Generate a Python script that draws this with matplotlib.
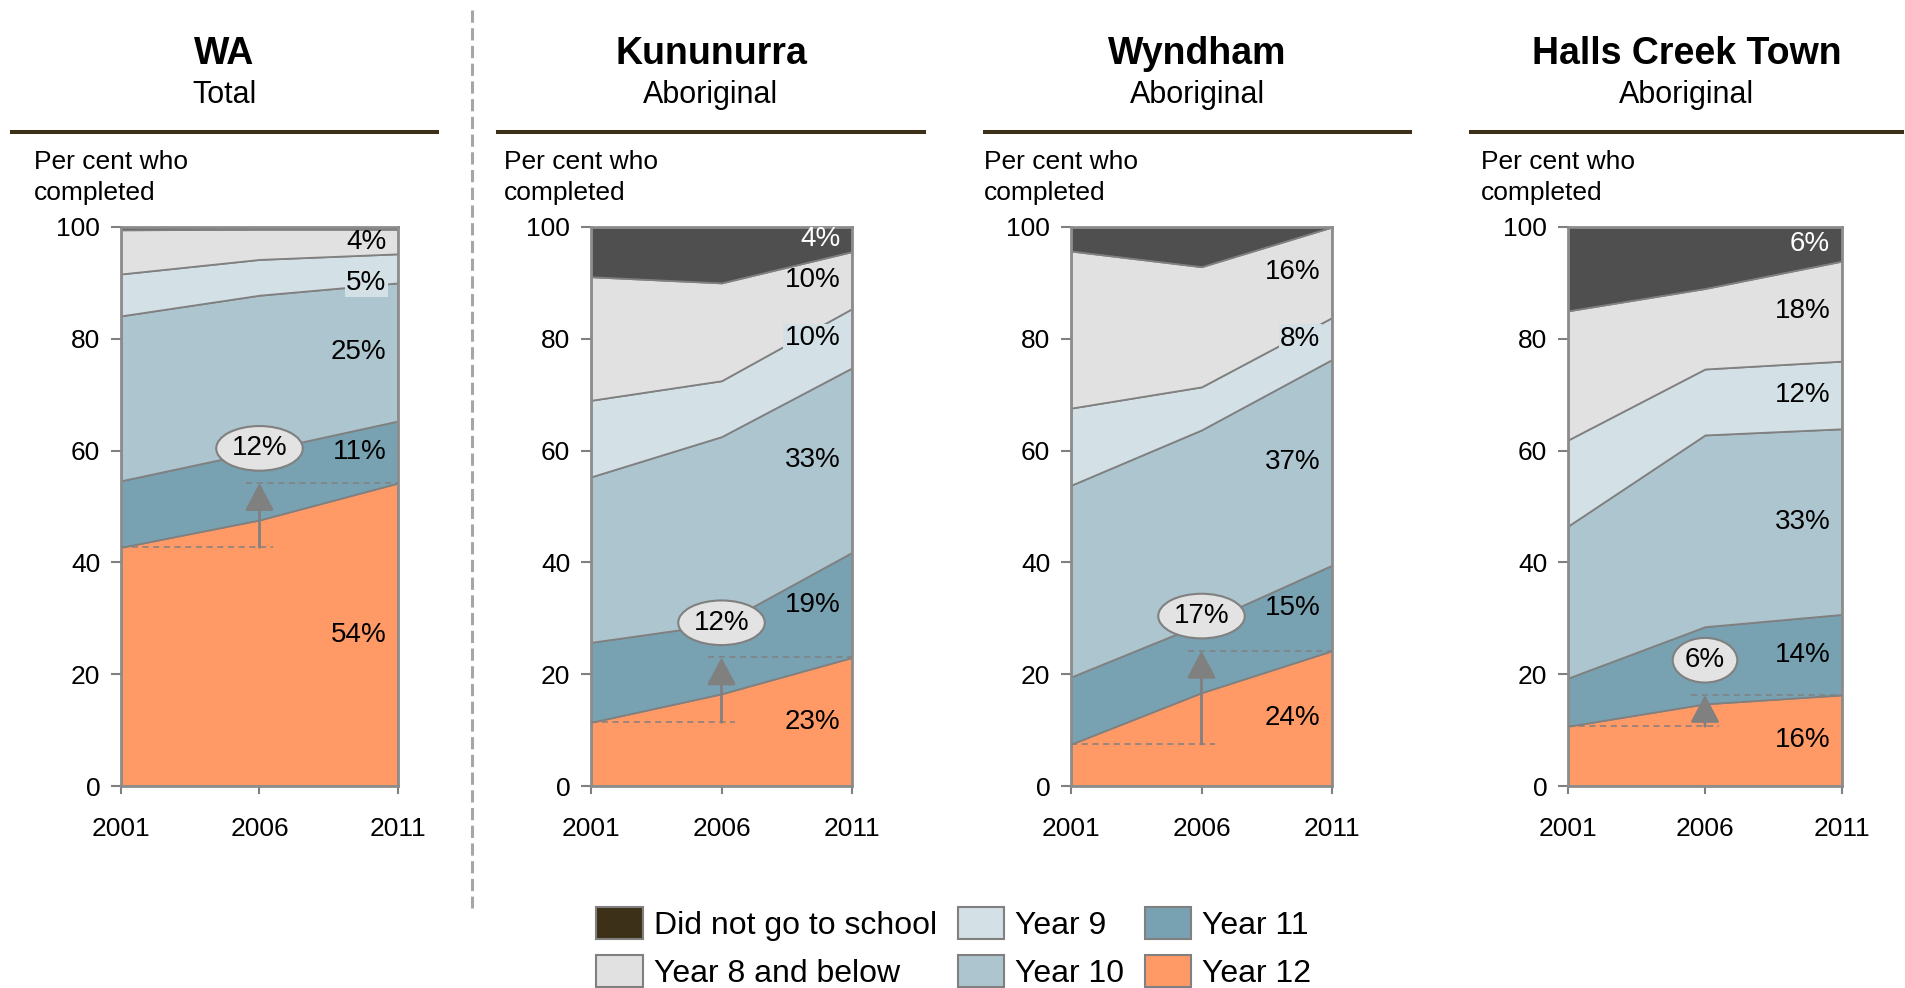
import numpy as np
from matplotlib import pyplot as plt
from matplotlib.patches import Patch
from matplotlib.lines import Line2D

plt.rcParams['font.family'] = ['Liberation Sans', 'DejaVu Sans']

# --- data (shares of people per highest year completed, bottom to top) ---
years = [2001, 2006, 2011]
categories = ['Year 12', 'Year 11', 'Year 10', 'Year 9', 'Year 8 and below', 'Did not go to school']

regions = ['WA', 'Kununurra', 'Wyndham', 'Halls Creek Town']
subtitles = ['Total', 'Aboriginal', 'Aboriginal', 'Aboriginal']

wa = [[42.7, 47.6, 54.2],
      [11.9, 12.3, 11.1],
      [29.5, 27.9, 24.7],
      [7.5, 6.4, 5.2],
      [7.9, 5.4, 4.4],
      [0.5, 0.4, 0.4]]
kununurra = [[11.4, 16.5, 23.0],
             [14.3, 12.5, 18.8],
             [29.6, 33.5, 33.0],
             [13.7, 10.0, 10.6],
             [22.1, 17.5, 10.2],
             [8.9, 10.0, 4.4]]
wyndham = [[7.5, 16.7, 24.2],
           [12.0, 12.3, 15.3],
           [34.3, 34.7, 36.8],
           [13.8, 7.7, 7.5],
           [28.1, 21.5, 16.2],
           [4.3, 7.1, 0.0]]
halls_creek = [[10.7, 14.7, 16.3],
               [8.6, 13.8, 14.4],
               [27.2, 34.3, 33.2],
               [15.4, 11.8, 12.1],
               [23.1, 14.4, 17.9],
               [15.0, 11.0, 6.1]]

# labels shown at the 2011 edge (bottom to top)
labels_wa = ['54%', '11%', '25%', '5%', '4%', '']
labels_kununurra = ['23%', '19%', '33%', '10%', '10%', '4%']
labels_wyndham = ['24%', '15%', '37%', '8%', '16%', '']
labels_halls_creek = ['16%', '14%', '33%', '12%', '18%', '6%']

# Year 12 change between 2001 and 2011
change_labels = ['12%', '12%', '17%', '6%']

series = [wa, kununurra, wyndham, halls_creek]
layer_labels = [labels_wa, labels_kununurra, labels_wyndham, labels_halls_creek]

# --- styles ---
fill_colors = ['#FF9966', '#78A2B2', '#ADC5CF', '#D3E0E6', '#E1E1E1', '#4F4F4F']
legend_colors = ['#3D3018', '#E1E1E1', '#D3E0E6', '#ADC5CF', '#78A2B2', '#FF9966']
legend_order = [5, 4, 3, 2, 1, 0]
edge = '#808080'
brown = '#3D3018'

W, H = 1906, 988
fig = plt.figure(figsize=(W / 100, H / 100), dpi=100)

# pixel layout of each panel: axes left, axes width, header line start / end
panels = [(121, 277, 12, 437),
          (591, 261, 498, 924),
          (1071, 261, 985, 1410),
          (1568, 274, 1471, 1902)]
ax_top, ax_bottom = 227, 786

for i, (left, width, h0, h1) in enumerate(panels):
    ax = fig.add_axes([left / W, 1 - ax_bottom / H, width / W, (ax_bottom - ax_top) / H])
    data = np.array(series[i])
    ax.stackplot(years, data, colors=fill_colors, edgecolor=edge, linewidth=1.3)
    ax.set_xlim(2001, 2011)
    ax.set_ylim(0, 100)
    ax.set_xticks(years)
    ax.set_yticks(range(0, 101, 20))
    ax.tick_params(axis='x', direction='out', length=6, width=1.5, color=edge,
                   labelsize=19, pad=16)
    ax.tick_params(axis='y', direction='out', length=7, width=1.5, color=edge,
                   labelsize=19, pad=8)
    for s in ax.spines.values():
        s.set_color('#8C8C8C')
        s.set_linewidth(2)

    # percentage labels on the right edge
    tops = data.cumsum(axis=0)[:, -1]
    mids = tops - data[:, -1] / 2
    for k, lab in enumerate(layer_labels[i]):
        if not lab:
            continue
        y = mids[k]
        if i == 0 and k == 3:
            y -= 2.6
        bbox = dict(fc=fill_colors[3], ec='none', pad=1) if k == 3 else None
        ax.annotate(lab, xy=(2011, y), xytext=(-8.5, 0), textcoords='offset points',
                    ha='right', va='center', fontsize=20,
                    color='white' if k == 5 else 'black', bbox=bbox, zorder=5)

    # Year 12 change: dashed guides, arrow, ellipse label
    lo = data[0][0]
    hi = data[0][-1]
    ax.plot([2001, 2006.5], [lo, lo], color=edge, lw=1.1, ls=(0, (4, 3)), zorder=4)
    ax.plot([2005.5, 2011], [hi, hi], color=edge, lw=1.1, ls=(0, (4, 3)), zorder=4)
    ax.annotate('', xy=(2006, hi), xytext=(2006, lo),
                arrowprops=dict(arrowstyle='-|>,head_length=0.85,head_width=0.45',
                                mutation_scale=20, color=edge, lw=2,
                                shrinkA=0, shrinkB=0), zorder=5)
    ax.text(2006, hi + 6.2, change_labels[i], ha='center', va='center', fontsize=20,
            zorder=6, bbox=dict(boxstyle='ellipse,pad=0.1', fc='#E3E3E3', ec=edge, lw=1.5))

    # panel header
    cx = (h0 + h1) / 2 / W
    fig.text(cx, 1 - 54 / H, regions[i], ha='center', va='center',
             fontsize=27, fontweight='bold')
    fig.text(cx, 1 - 95 / H, subtitles[i], ha='center', va='center', fontsize=22)
    fig.add_artist(Line2D([h0 / W, h1 / W], [1 - 132 / H, 1 - 132 / H],
                          transform=fig.transFigure, color=brown, lw=2.9))
    fig.text((left - 87) / W, 1 - 150 / H, 'Per cent who\ncompleted', ha='left', va='top',
             fontsize=19, linespacing=1.38)

# dashed separator between WA and the towns
fig.add_artist(Line2D([472 / W, 472 / W], [1 - 10 / H, 1 - 908 / H],
                      transform=fig.transFigure, color='#A6A6A6', lw=2.2,
                      ls=(0, (4, 1.8))))

# legend
handles = [Patch(facecolor=legend_colors[j], edgecolor=edge, linewidth=1.5) for j in range(6)]
names = [categories[j] for j in legend_order]
fig.legend(handles, names, ncol=3, loc='center', bbox_to_anchor=(0.5005, 0.0405),
           frameon=False, fontsize=23, handlelength=1.45, handleheight=1.15,
           handletextpad=0.35, columnspacing=0.65, labelspacing=0.45, borderpad=0)

fig.savefig('out.png', dpi=100)
